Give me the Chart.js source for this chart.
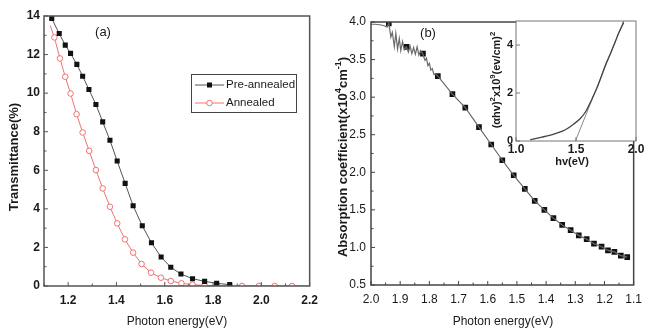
<!DOCTYPE html>
<html>
<head>
<meta charset="utf-8">
<script src="https://cdn.jsdelivr.net/npm/chart.js@4.4.0/dist/chart.umd.min.js"></script>
<style>
  body { margin: 0; background: #fff; }
  #wrap { position: relative; width: 649px; height: 328px; overflow: hidden; }
  canvas { position: absolute; top: 0; }
  #cA { left: 0; }
  #cB { left: 325px; }
  #cI { left: 480px; }
</style>
</head>
<body>
<div id="wrap">
  <canvas id="cA" width="325" height="328"></canvas>
  <canvas id="cB" width="324" height="328"></canvas>
  <canvas id="cI" width="169" height="175"></canvas>
</div>
<script>
// Datos
// (a) Transmitancia
const preX = [1.124, 1.132, 1.163, 1.188, 1.210, 1.236, 1.260, 1.286, 1.315, 1.343, 1.373, 1.403, 1.436, 1.469, 1.507, 1.545, 1.585, 1.625, 1.667, 1.715, 1.765, 1.815, 1.869];
const preY = [14.4, 13.87, 13.09, 12.49, 12.06, 11.49, 10.88, 10.19, 9.41, 8.51, 7.56, 6.48, 5.32, 4.16, 3.12, 2.24, 1.50, 0.97, 0.62, 0.38, 0.24, 0.14, 0.07];
const annX = [1.126, 1.143, 1.166, 1.188, 1.210, 1.235, 1.260, 1.287, 1.315, 1.343, 1.373, 1.403, 1.435, 1.469, 1.504, 1.543, 1.584, 1.625, 1.669, 1.715, 1.765, 1.815, 1.869, 1.920, 1.990, 2.055, 2.127, 2.200];
const annY = [13.5, 12.89, 11.80, 10.85, 9.98, 8.91, 7.96, 7.01, 6.01, 5.06, 4.11, 3.25, 2.42, 1.73, 1.14, 0.69, 0.43, 0.26, 0.14, 0.07, 0.03, 0.02, 0, 0, 0, 0, 0, 0];

// (b) Coeficiente de absorción: parte ruidosa + puntos marcados
const bNoiseX = [2.000, 1.985, 1.965, 1.955, 1.945, 1.939, 1.932, 1.927, 1.920, 1.915, 1.909, 1.903, 1.898, 1.892, 1.886, 1.879, 1.872, 1.866, 1.860, 1.854, 1.848, 1.842, 1.836, 1.830, 1.823, 1.815, 1.810, 1.805, 1.800, 1.795, 1.790, 1.784, 1.778];
const bNoiseY = [3.97, 3.97, 3.96, 3.95, 3.93, 3.99, 3.80, 3.86, 3.67, 3.85, 3.64, 3.78, 3.62, 3.74, 3.63, 3.67, 3.60, 3.68, 3.58, 3.66, 3.57, 3.67, 3.56, 3.62, 3.58, 3.49, 3.52, 3.42, 3.45, 3.36, 3.38, 3.30, 3.31];
const bMarkX = [1.939, 1.878, 1.822, 1.771, 1.721, 1.677, 1.630, 1.588, 1.550, 1.511, 1.473, 1.439, 1.406, 1.375, 1.345, 1.316, 1.288, 1.261, 1.236, 1.210, 1.188, 1.166, 1.144, 1.122];
const bMarkY = [3.98, 3.67, 3.58, 3.28, 3.04, 2.86, 2.60, 2.37, 2.16, 1.96, 1.78, 1.62, 1.50, 1.39, 1.30, 1.23, 1.16, 1.11, 1.05, 1.01, 0.96, 0.94, 0.89, 0.87];

// Recuadro: (ahv)^2 vs hv y recta tangente
const insX = [1.118, 1.216, 1.328, 1.412, 1.482, 1.538, 1.580, 1.613, 1.641, 1.678, 1.714, 1.748, 1.790, 1.830, 1.860, 1.885, 1.897];
const insY = [0.05, 0.16, 0.31, 0.47, 0.71, 0.95, 1.22, 1.54, 1.84, 2.25, 2.73, 3.20, 3.68, 4.18, 4.55, 4.80, 4.95];
const tanX = [1.495, 1.897];
const tanY = [0, 5.0];

// Marcas de los ejes
const aXTicks = [1.2, 1.4, 1.6, 1.8, 2.0, 2.2];
const aXMinor = [1.1, 1.3, 1.5, 1.7, 1.9, 2.1];
const aYTicks = [0, 2, 4, 6, 8, 10, 12, 14];
const aYMinor = [1, 3, 5, 7, 9, 11, 13];
const bXTicks = [2.0, 1.9, 1.8, 1.7, 1.6, 1.5, 1.4, 1.3, 1.2, 1.1];
const bXMinor = [1.95, 1.85, 1.75, 1.65, 1.55, 1.45, 1.35, 1.25, 1.15];
const bYTicks = [0.5, 1.0, 1.5, 2.0, 2.5, 3.0, 3.5, 4.0];
const bYMinor = [0.75, 1.25, 1.75, 2.25, 2.75, 3.25, 3.75];
const iXTicks = [1.0, 1.5, 2.0];
const iYTicks = [0, 2, 4];

const FAMILY = '"Liberation Sans", Arial, sans-serif';
const pts = (xs, ys) => xs.map((x, i) => ({ x: x, y: ys[i] }));

// Texto con superíndices
function drawRich(ctx, parts, x, y, size, bold, rot) {
  const f = s => (bold ? 'bold ' : '') + s + 'px ' + FAMILY;
  ctx.save();
  ctx.translate(x, y);
  if (rot) ctx.rotate(rot);
  ctx.fillStyle = '#1a1a1a';
  ctx.textBaseline = 'middle';
  ctx.textAlign = 'left';
  let w = 0;
  parts.forEach(([t, sup]) => { ctx.font = f(sup ? size * 0.7 : size); w += ctx.measureText(t).width; });
  let cx = -w / 2;
  parts.forEach(([t, sup]) => {
    ctx.font = f(sup ? size * 0.7 : size);
    ctx.fillText(t, cx, sup ? -size * 0.38 : 0);
    cx += ctx.measureText(t).width;
  });
  ctx.restore();
}

// Marco y marcas hacia adentro
const framePlugin = {
  id: 'frame',
  beforeDraw(chart, args, o) {
    if (!o.fill) return;
    const a = chart.chartArea, ctx = chart.ctx;
    ctx.save();
    ctx.fillStyle = o.fill;
    ctx.fillRect(a.left, a.top, a.right - a.left, a.bottom - a.top);
    ctx.restore();
  },
  afterDraw(chart, args, o) {
    const { ctx, chartArea: a, scales } = chart;
    ctx.save();
    ctx.strokeStyle = o.color;
    ctx.lineWidth = o.width;
    ctx.strokeRect(a.left, a.top, a.right - a.left, a.bottom - a.top);
    ctx.lineWidth = 1;
    const tick = (list, len, axis) => (list || []).forEach(v => {
      ctx.beginPath();
      if (axis === 'x') {
        const p = scales.x.getPixelForValue(v);
        ctx.moveTo(p, a.bottom); ctx.lineTo(p, a.bottom - len);
      } else {
        const p = scales.y.getPixelForValue(v);
        ctx.moveTo(a.left, p); ctx.lineTo(a.left + len, p);
      }
      ctx.stroke();
    });
    tick(o.xMajor, 4, 'x'); tick(o.xMinor, 2.5, 'x');
    tick(o.yMajor, 4, 'y'); tick(o.yMinor, 2.5, 'y');
    ctx.restore();
  }
};

// Textos libres y leyenda
const textPlugin = {
  id: 'texts',
  afterDraw(chart, args, o) {
    const ctx = chart.ctx;
    (o.items || []).forEach(it => drawRich(ctx, it.parts, it.x, it.y, it.size, it.bold, it.rot));
    if (o.legend) {
      const L = o.legend;
      ctx.save();
      ctx.strokeStyle = '#444';
      ctx.lineWidth = 1;
      ctx.strokeRect(L.x + 0.5, L.y + 0.5, L.w, L.h);
      chart.data.datasets.forEach((ds, i) => {
        const cy = L.y + 11 + i * 18;
        ctx.strokeStyle = ds.borderColor;
        ctx.beginPath(); ctx.moveTo(L.x + 4, cy); ctx.lineTo(L.x + 33, cy); ctx.stroke();
        const mx = L.x + 18.5;
        if (ds.pointStyle === 'rect') {
          ctx.fillStyle = ds.pointBackgroundColor;
          ctx.fillRect(mx - 2.5, cy - 2.5, 5, 5);
        } else {
          ctx.fillStyle = '#fff';
          ctx.beginPath(); ctx.arc(mx, cy, 2.8, 0, Math.PI * 2); ctx.fill(); ctx.stroke();
        }
        ctx.fillStyle = '#1a1a1a';
        ctx.font = '11.5px ' + FAMILY;
        ctx.textBaseline = 'middle';
        ctx.fillText(ds.label, L.x + 35, cy);
      });
      ctx.restore();
    }
  }
};

function axis(min, max, tickList, fmt, size, bold, pad, fitKey, fitVal, extra) {
  return Object.assign({
    type: 'linear', min: min, max: max,
    afterBuildTicks: s => { s.ticks = tickList.map(v => ({ value: v })); },
    afterFit: s => { s[fitKey] = fitVal; },
    grid: { display: false, drawTicks: false },
    border: { display: false },
    ticks: { padding: pad, color: '#1a1a1a', autoSkip: false, maxRotation: 0,
             font: { size: size, family: FAMILY, weight: bold ? 'bold' : 'normal' },
             callback: fmt }
  }, extra || {});
}

const common = {
  responsive: false, animation: false, events: [],
};

// (a) Transmitancia
new Chart(document.getElementById('cA'), {
  type: 'line',
  data: {
    datasets: [
      { label: 'Pre-annealed', data: pts(preX, preY), borderColor: '#555', borderWidth: 1,
        pointStyle: 'rect', pointRadius: c => c.dataIndex === 0 ? 0 : 3.6,
        pointBackgroundColor: '#111', pointBorderColor: '#111', pointBorderWidth: 0 },
      { label: 'Annealed', data: pts(annX, annY), borderColor: '#f07272', borderWidth: 1,
        pointStyle: 'circle', pointRadius: c => (c.dataIndex === 0 || c.dataIndex === annX.length - 1) ? 0 : 2.8,
        pointBackgroundColor: '#fff', pointBorderColor: '#f07272', pointBorderWidth: 1 }
    ]
  },
  options: Object.assign({}, common, {
    layout: { padding: { top: 16, right: 15, left: 0, bottom: 0 }, autoPadding: false },
    plugins: {
      legend: { display: false }, tooltip: { enabled: false },
      frame: { color: '#555', width: 1.5, xMajor: aXTicks, xMinor: aXMinor, yMajor: aYTicks, yMinor: aYMinor },
      texts: {
        items: [
          { parts: [['(a)', '']], x: 103, y: 32, size: 13 },
          { parts: [['Photon energy(eV)', '']], x: 177, y: 322, size: 12 },
          { parts: [['Transmittance(%)', '']], x: 14, y: 157, size: 13, bold: true, rot: -Math.PI / 2 }
        ],
        legend: { x: 191, y: 74, w: 105, h: 38 }
      }
    },
    scales: {
      x: axis(1.1, 2.2, aXTicks, v => v.toFixed(1), 12, true, 7, 'height', 42),
      y: axis(0, 14, aYTicks, v => String(v), 12, true, 4, 'width', 44)
    }
  }),
  plugins: [framePlugin, textPlugin]
});

// (b) Coeficiente de absorción
const bLine = pts(bNoiseX, bNoiseY).concat(pts(bMarkX, bMarkY).filter(p => p.x < 1.775));
new Chart(document.getElementById('cB'), {
  type: 'line',
  data: {
    datasets: [
      { data: bLine, borderColor: '#6a6a6a', borderWidth: 1.2, pointRadius: 0 },
      { data: pts(bMarkX, bMarkY), showLine: false, pointStyle: 'rect', pointRadius: 4,
        pointBackgroundColor: '#111', pointBorderColor: '#111', pointBorderWidth: 0 }
    ]
  },
  options: Object.assign({}, common, {
    layout: { padding: { top: 22, right: 7, left: 0, bottom: 0 }, autoPadding: false },
    plugins: {
      legend: { display: false }, tooltip: { enabled: false },
      frame: { color: '#444', width: 1.5, xMajor: bXTicks, xMinor: bXMinor, yMajor: bYTicks, yMinor: bYMinor },
      texts: {
        items: [
          { parts: [['(b)', '']], x: 103, y: 33, size: 13 },
          { parts: [['Photon energy(eV)', '']], x: 178, y: 322, size: 12 },
          { parts: [['Absorption coefficient(x10', ''], ['4', 's'], ['cm', ''], ['-1', 's'], [')', '']],
            x: 18, y: 157, size: 13, bold: true, rot: -Math.PI / 2 }
        ]
      }
    },
    scales: {
      x: axis(1.1, 2.0, bXTicks, v => v.toFixed(1), 12, false, 7, 'height', 43, { reverse: true }),
      y: axis(0.5, 4.0, bYTicks, v => v.toFixed(1), 12, false, 5, 'width', 46)
    }
  }),
  plugins: [framePlugin, textPlugin]
});

// Recuadro interior
new Chart(document.getElementById('cI'), {
  type: 'line',
  data: {
    datasets: [
      { data: pts(insX, insY), borderColor: '#444', borderWidth: 1.3, pointRadius: 0,
        cubicInterpolationMode: 'monotone' },
      { data: pts(tanX, tanY), borderColor: '#8a8a8a', borderWidth: 1, pointRadius: 0 }
    ]
  },
  options: Object.assign({}, common, {
    layout: { padding: { top: 21, right: 13, left: 0, bottom: 0 }, autoPadding: false },
    plugins: {
      legend: { display: false }, tooltip: { enabled: false },
      frame: { color: '#777', width: 1, fill: '#fff', xMajor: iXTicks, yMajor: iYTicks },
      texts: {
        items: [
          { parts: [['hv(eV)', '']], x: 92, y: 162, size: 11, bold: true },
          { parts: [['(αhv)', ''], ['2', 's'], ['x10', ''], ['9', 's'], ['(ev/cm)', ''], ['2', 's']],
            x: 17, y: 80, size: 11, bold: true, rot: -Math.PI / 2 }
        ]
      }
    },
    scales: {
      x: axis(1.0, 2.0, iXTicks, v => v.toFixed(1), 12, true, 1, 'height', 34),
      y: axis(0, 5, iYTicks, v => String(v), 11, true, 3, 'width', 36)
    }
  }),
  plugins: [framePlugin, textPlugin]
});
</script>
</body>
</html>
